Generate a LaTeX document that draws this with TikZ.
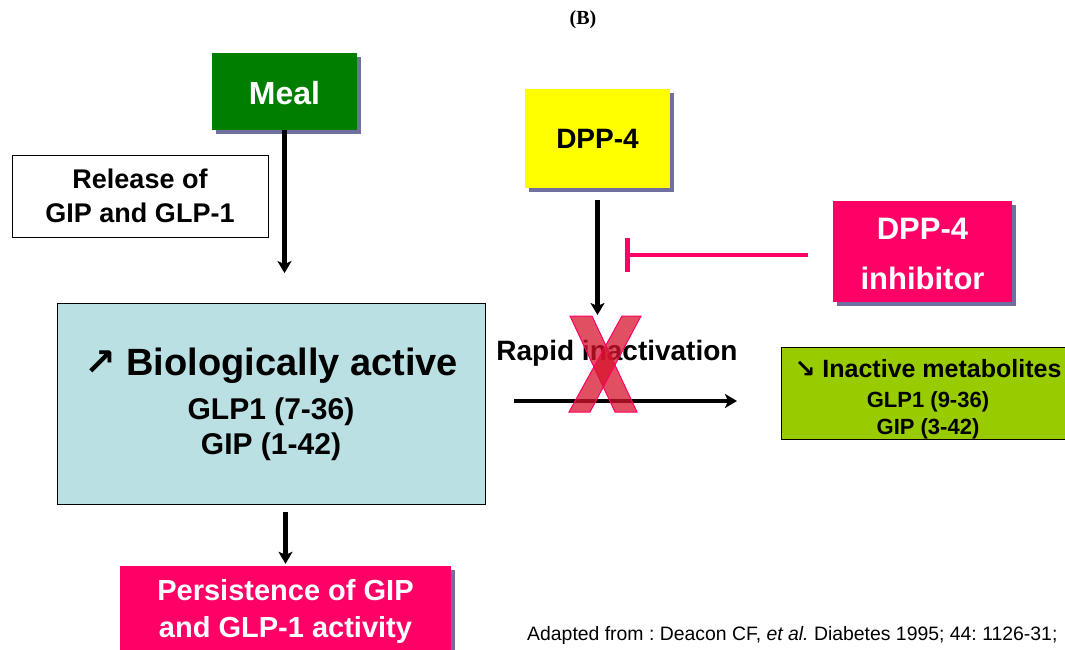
\documentclass[tikz,border=0pt]{standalone}
\usepackage{fontspec}
\setmainfont{Liberation Sans}
\newfontfamily\arrowfont{DejaVu Sans}
\newfontfamily\titlefont{Liberation Serif}
\usetikzlibrary{arrows.meta,shadows}
\frenchspacing
\definecolor{mealgreen}{RGB}{0,126,0}
\definecolor{dppyellow}{RGB}{255,255,0}
\definecolor{hotpink}{RGB}{255,0,102}
\definecolor{paleblue}{RGB}{187,224,227}
\definecolor{limegreen}{RGB}{153,204,0}
\definecolor{shadowblue}{RGB}{112,112,160}
\definecolor{crossred}{RGB}{215,20,45}
\newcommand{\fsz}[2]{\fontsize{#1}{#2}\selectfont}
\tikzset{
  box/.style={rectangle, inner sep=0pt, align=center},
  shadowed/.style={drop shadow={shadow xshift=4pt, shadow yshift=-4pt, fill=shadowblue, opacity=1}},
  flow/.style={line width=4.5pt, -{Stealth[length=12pt,width=14pt,inset=3pt]}},
}
\begin{document}
\begin{tikzpicture}[x=1pt,y=-1pt]
\useasboundingbox (0,0) rectangle (1065,650);
%%% title
\node (title) at (583,20) {\titlefont\bfseries\fsz{20}{22}(B)};
%%% left column: meal, release, active forms, persistence
\node[box, shadowed, fill=mealgreen, text=white, minimum width=145pt, minimum height=77pt,
  font=\bfseries\fsz{32}{36}] (meal) at (284.5,91.5) {\rule{0pt}{27pt}Meal};
\node[box, draw=black, line width=0.8pt, fill=white, minimum width=256pt, minimum height=82pt,
  font=\bfseries\fsz{27}{34}] (release) at (140,196) {Release of\\GIP and GLP-1};
\node[box, draw=black, line width=0.8pt, fill=paleblue, minimum width=428pt, minimum height=201pt,
  font=\bfseries\fsz{30}{35}] (bio) at (271,404)
  {\fsz{38}{40}{\arrowfont\bfseries ↗} Biologically active\\[9pt]
   GLP1 (7-36)\\GIP (1-42)};
\node[box, shadowed, fill=hotpink, text=white, minimum width=331pt, minimum height=90pt,
  font=\bfseries\fsz{29}{37}] (persist) at (285.5,611) {Persistence of GIP\\and GLP-1 activity};
%%% right part: enzyme, inhibitor, metabolites
\node[box, shadowed, fill=dppyellow, minimum width=145pt, minimum height=98pt,
  font=\bfseries\fsz{28}{32}] (dpp) at (597.5,138.5) {DPP-4};
\node[box, shadowed, fill=hotpink, text=white, minimum width=179pt, minimum height=101pt,
  font=\bfseries\fsz{31}{50}] (inhib) at (922.5,251) {\rule{0pt}{27pt}DPP-4\\inhibitor};
\node[box, draw=black, line width=0.8pt, fill=limegreen, minimum width=294pt, minimum height=92pt,
  font=\bfseries\fsz{22}{27}] (inact) at (928,393)
  {\rule{0pt}{30pt}\fsz{25}{30}{\arrowfont\bfseries ↘} Inactive metabolites\\[3pt]
   GLP1 (9-36)\\GIP (3-42)};
\node[box, font=\bfseries\fsz{28}{30}] (rapid) at (617,353) {Rapid inactivation};
\node[anchor=west, inner sep=0pt, font=\fsz{19.4}{22}] (foot) at (527,635)
  {Adapted from : Deacon CF, \textit{et al.} Diabetes 1995; 44: 1126-31;};
%
\coordinate (cut) at (597.5,315);
\coordinate (hstart) at (514,401);
\coordinate (hend) at (737,401);
\coordinate (block) at (625,255);
%%% connectors
\draw[flow] (meal.south) -- (meal.south |- bio.north) [shorten >=30pt];
\draw[flow, shorten <=7pt, shorten >=2pt] (bio.south -| persist.north) -- (persist.north);
\draw[flow, shorten <=12pt] (dpp.south) -- (cut);
\draw[flow] (hstart) -- (hend);
\draw[hotpink, line width=4.5pt, -{Bar[width=34pt]}, shorten <=25pt] (block -| inhib.west) -- (block);
%%% the cross over the inactivation step
\filldraw[crossred, fill opacity=0.75, draw=hotpink, line width=1pt]
  (570,316) -- (592,316) -- (637,412) -- (615,412) -- cycle;
\filldraw[crossred, fill opacity=0.75, draw=hotpink, line width=1pt]
  (622,316) -- (641,316) -- (590,412) -- (569,412) -- cycle;
\end{tikzpicture}
\end{document}
